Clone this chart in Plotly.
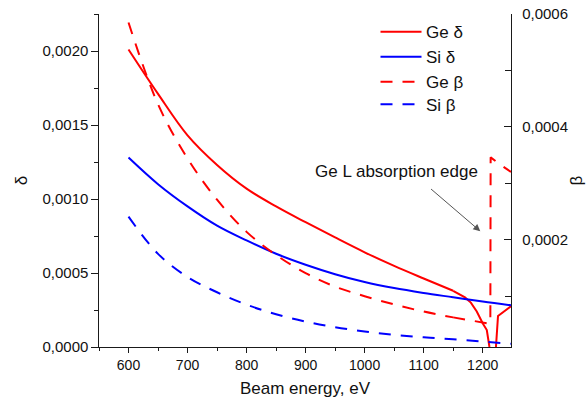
import plotly.graph_objects as go

# ---- data -------------------------------------------------------------
ge_delta_energy = [600, 650, 700, 750, 800, 850, 900, 950, 1000, 1050, 1100, 1150,
                   1170, 1180, 1190, 1200, 1207, 1211.5, 1213, 1221, 1222.5, 1226, 1248]
ge_delta = [0.00201, 0.00171, 0.00143, 0.00123, 0.00107, 0.000950, 0.000843, 0.000740,
            0.000640, 0.000548, 0.000463, 0.00038, 0.000335, 0.00030, 0.00024, 0.00016,
            0.000115, 0.0, -0.00002, -0.00002, 0.0, 0.00021, 0.000275]

si_delta_energy = [600, 650, 700, 750, 800, 850, 900, 950, 1000, 1050, 1100, 1150, 1200, 1248]
si_delta = [0.00128, 0.00110, 0.00095, 0.00082, 0.00072, 0.00063, 0.000556, 0.000492,
            0.000439, 0.000398, 0.000365, 0.000336, 0.000307, 0.000282]

ge_beta_energy = [600, 650, 700, 750, 800, 850, 900, 950, 1000, 1050, 1100, 1150,
                  1170, 1190, 1200, 1208, 1213, 1213.5, 1230, 1248]
ge_beta = [0.000585, 0.00044, 0.000344, 0.000271, 0.000214, 0.000173, 0.000141,
           0.000117, 0.0001, 0.0000855, 0.0000728, 0.0000625, 0.0000585, 0.000055,
           0.0000535, 0.000052, 0.0000515, 0.000346, 0.000333, 0.00032]

si_beta_energy = [600, 650, 700, 750, 800, 850, 900, 950, 1000, 1050, 1100, 1150, 1200, 1248]
si_beta = [0.000241, 0.000175, 0.000134, 0.000107, 0.000085, 0.000068, 0.000055,
           0.000045, 0.0000375, 0.0000316, 0.0000272, 0.0000236, 0.0000195, 0.0000158]

series_names = ["Ge δ", "Si δ", "Ge β", "Si β"]
x_title = "Beam energy, eV"
left_title = "δ"
right_title = "β"
edge_label = "Ge L absorption edge"

# ---- styling ----------------------------------------------------------
RED = "#ff0000"
BLUE = "#0000ff"
DASH = "12px,10px"
FONT = "Liberation Sans, Arial, sans-serif"
AXC = "#1a1a1a"

W, H = 586, 401
ML, MR, MT, MB = 99, 75, 14, 54
PW, PH = W - ML - MR, H - MT - MB


def xp(px):
    return (px - ML) / PW


def yp(py):
    return 1 - (py - MT) / PH


def smooth_and_edge(xs, ys, split_at):
    """Split a series into a smooth part (up to split_at) and the sharp edge part."""
    k = next(i for i, v in enumerate(xs) if v >= split_at)
    return (xs[:k + 1], ys[:k + 1]), (xs[k:], ys[k:])


fig = go.Figure()

# Ge δ: smooth branch drawn as a spline, edge region drawn point to point
(gd_sx, gd_sy), (gd_ex, gd_ey) = smooth_and_edge(ge_delta_energy, ge_delta, 1150)
fig.add_trace(go.Scatter(x=gd_sx, y=gd_sy, name=series_names[0], mode="lines",
                         line=dict(color=RED, width=2, shape="spline", smoothing=1.0),
                         yaxis="y"))
fig.add_trace(go.Scatter(x=gd_ex, y=gd_ey, name=series_names[0], mode="lines",
                         line=dict(color=RED, width=2), yaxis="y", showlegend=False))

fig.add_trace(go.Scatter(x=si_delta_energy, y=si_delta, name=series_names[1], mode="lines",
                         line=dict(color=BLUE, width=2, shape="spline", smoothing=1.0), yaxis="y"))

# Ge β: smooth branch as a spline, the jump at the edge drawn point to point
(gb_sx, gb_sy), (gb_ex, gb_ey) = smooth_and_edge(ge_beta_energy, ge_beta, 1150)
fig.add_trace(go.Scatter(x=gb_sx, y=gb_sy, name=series_names[2], mode="lines",
                         line=dict(color=RED, width=2, dash=DASH, shape="spline", smoothing=1.0),
                         yaxis="y2"))
fig.add_trace(go.Scatter(x=gb_ex, y=gb_ey, name=series_names[2], mode="lines",
                         line=dict(color=RED, width=2, dash=DASH), yaxis="y2", showlegend=False))

fig.add_trace(go.Scatter(x=si_beta_energy, y=si_beta, name=series_names[3], mode="lines",
                         line=dict(color=BLUE, width=2, dash=DASH, shape="spline", smoothing=1.0),
                         yaxis="y2"))

# hand-placed legend in the upper right of the plot area
legend_rows = [
    (31.7, RED, "solid", 41),
    (56.7, BLUE, "solid", 41),
    (81.7, RED, DASH, 34),
    (104.3, BLUE, DASH, 34),
]
shapes = []
annotations = []
for name, (py, col, dash, length) in zip(series_names, legend_rows):
    shapes.append(dict(type="line", xref="paper", yref="paper",
                       x0=xp(380.5), x1=xp(380.5 + length), y0=yp(py), y1=yp(py),
                       line=dict(color=col, width=2, dash=dash)))
    annotations.append(dict(xref="paper", yref="paper", x=xp(424), y=yp(py + 1),
                            xanchor="left", yanchor="middle", text=name, showarrow=False,
                            font=dict(family=FONT, size=17, color="#111")))

# absorption edge label and pointer
annotations.append(dict(xref="x", yref="y", x=1053.5, y=0.001187, text=edge_label,
                        showarrow=False, xanchor="center", yanchor="middle",
                        font=dict(family=FONT, size=17, color="#111")))
annotations.append(dict(xref="x", yref="y", x=1196, y=0.000782, axref="x", ayref="y",
                        ax=1110, ay=0.001076, text="", showarrow=True, arrowhead=2,
                        arrowsize=1.4, arrowwidth=1, arrowcolor="#555"))

fig.update_layout(
    width=W, height=H,
    margin=dict(l=ML, r=MR, t=MT, b=MB, pad=0),
    paper_bgcolor="white", plot_bgcolor="white",
    separators=", ",
    showlegend=False,
    font=dict(family=FONT, color="#111"),
    shapes=shapes,
    annotations=annotations,
    xaxis=dict(
        range=[550, 1248], tickmode="linear", tick0=600, dtick=100, automargin=False,
        showline=True, linecolor=AXC, linewidth=1.3, mirror=False,
        ticks="outside", ticklen=5, tickwidth=1.2, tickcolor=AXC,
        minor=dict(ticks="outside", ticklen=3, tickwidth=1.2, tickcolor=AXC,
                   tick0=550, dtick=50, showgrid=False),
        showgrid=False, zeroline=False,
        tickfont=dict(family=FONT, size=14, color="#111"),
        title=dict(text=x_title, font=dict(family=FONT, size=17, color="#111"), standoff=10),
    ),
    yaxis=dict(
        range=[0, 0.00225], tickmode="linear", tick0=0, dtick=0.0005, tickformat=".4f",
        automargin=False,
        showline=True, linecolor=AXC, linewidth=1.3,
        ticks="outside", ticklen=6.5, tickwidth=1.2, tickcolor=AXC,
        minor=dict(ticks="outside", ticklen=3.5, tickwidth=1.2, tickcolor=AXC,
                   tick0=0, dtick=0.00025, showgrid=False),
        showgrid=False, zeroline=False,
        tickfont=dict(family=FONT, size=15, color="#111"),
        title=dict(text=left_title, font=dict(family=FONT, size=17, color="#111"), standoff=10),
    ),
    yaxis2=dict(
        range=[0.00001, 0.0006], overlaying="y", side="right", anchor="x",
        tickmode="linear", tick0=0, dtick=0.0002, tickformat=".4f", automargin=False,
        showline=True, linecolor=AXC, linewidth=1.3,
        ticks="inside", ticklen=6.5, tickwidth=1.2, tickcolor=AXC,
        minor=dict(ticks="inside", ticklen=6, tickwidth=1.2, tickcolor=AXC,
                   tick0=0, dtick=0.0001, showgrid=False),
        ticklabelstandoff=7,
        showgrid=False, zeroline=False,
        tickfont=dict(family=FONT, size=15, color="#111"),
        title=dict(text=right_title, font=dict(family=FONT, size=17, color="#111"), standoff=13),
    ),
)

fig.write_html("out.html")
